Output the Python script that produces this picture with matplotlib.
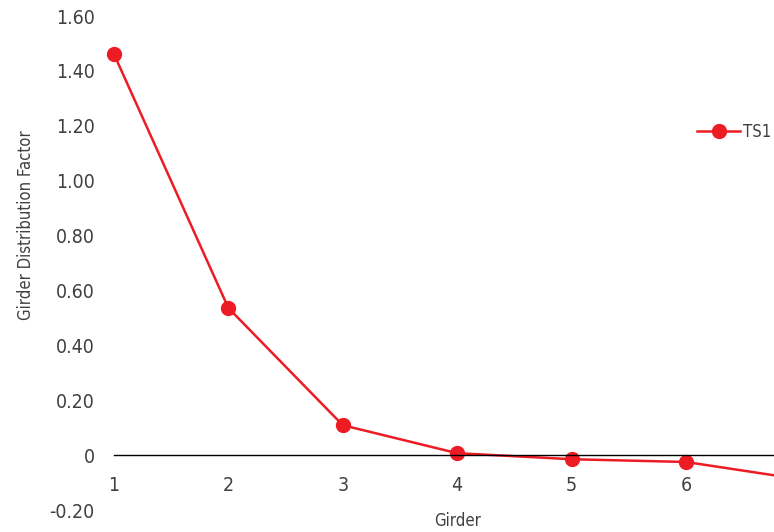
import matplotlib
matplotlib.use("Agg")
import matplotlib.pyplot as plt

# data
girders = [1, 2, 3, 4, 5, 6, 7]
ts1 = [1.461, 0.536, 0.109, 0.007, -0.015, -0.025, -0.088]
yticks = [-0.20, 0, 0.20, 0.40, 0.60, 0.80, 1.00, 1.20, 1.40, 1.60]
ytick_labels = ["-0.20", "0", "0.20", "0.40", "0.60", "0.80", "1.00", "1.20", "1.40", "1.60"]
xticks = [1, 2, 3, 4, 5, 6]

plt.rcParams['font.family'] = ['DejaVu Sans']
plt.rcParams['font.stretch'] = 'condensed'
txt = '#404040'
red = '#ED1C24'

fig = plt.figure(figsize=(7.74, 5.32), dpi=100)
ax = fig.add_axes([114/774, 22/532, 1 - 114/774, (510-16)/532])

ax.plot(girders, ts1, color=red, lw=1.8, marker='o', ms=10, label='TS1', clip_on=False)

ax.set_xlim(1, 6.77)
ax.set_ylim(-0.2, 1.6)
ax.set_yticks(yticks)
ax.set_yticklabels(ytick_labels)
ax.set_xticks(xticks)

for s in ['top', 'right', 'left']:
    ax.spines[s].set_visible(False)
ax.spines['bottom'].set_position(('data', 0))
ax.spines['bottom'].set_color('black')
ax.spines['bottom'].set_linewidth(1.0)
ax.tick_params(axis='x', length=0, pad=15, labelsize=14, labelcolor=txt)
ax.tick_params(axis='y', length=0, pad=14, labelsize=14, labelcolor=txt)

fig.text(26/774, 1 - 225/532, 'Girder Distribution Factor', rotation=90,
         ha='center', va='center', fontsize=12, color=txt)
fig.text(458/774, 1 - 521/532, 'Girder', ha='center', va='center', fontsize=12, color=txt)

leg = ax.legend(loc='center left', bbox_to_anchor=(697/774, 1 - 132/532),
                bbox_transform=fig.transFigure, frameon=False, fontsize=12,
                handlelength=2.6, handletextpad=0.15, borderpad=0, borderaxespad=0)
for t in leg.get_texts():
    t.set_color(txt)

fig.savefig('out.png', dpi=100)
